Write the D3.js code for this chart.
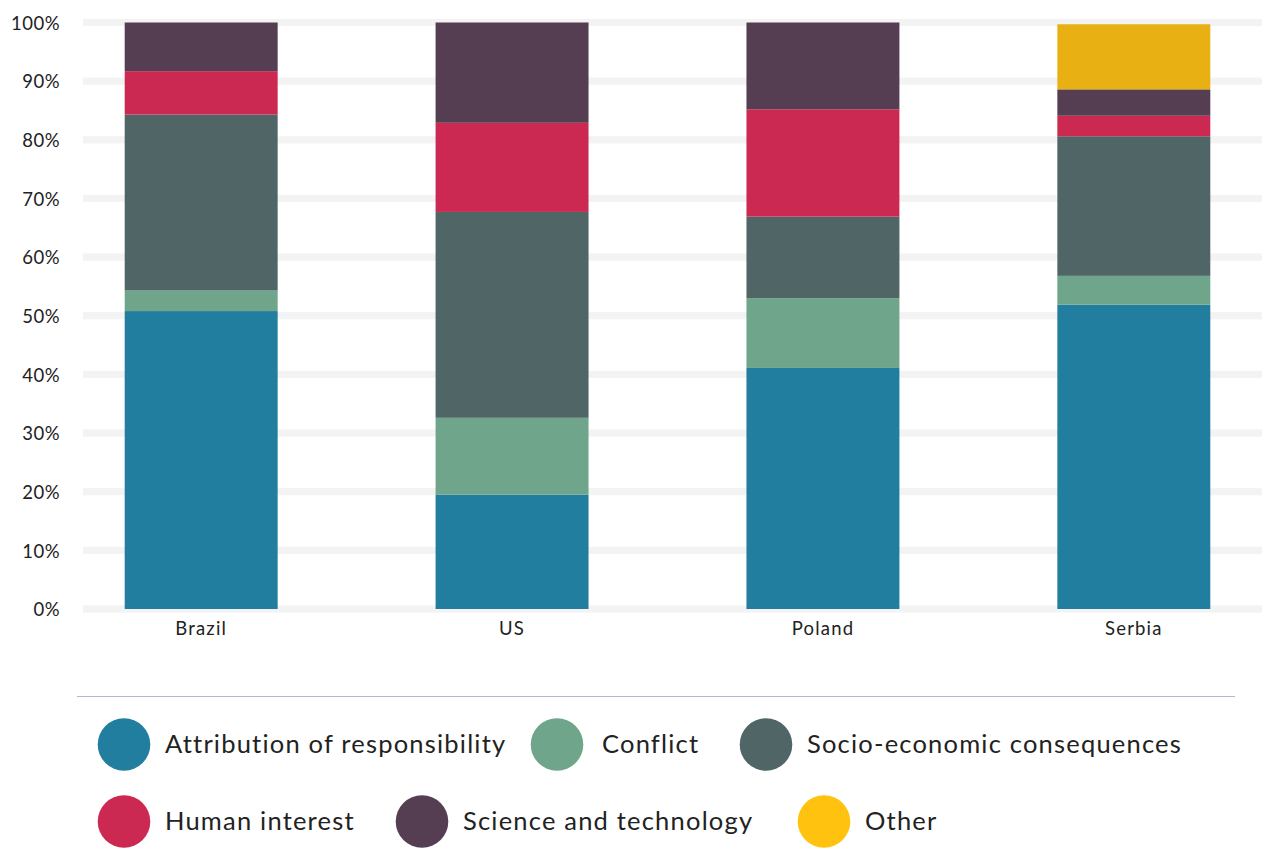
<!DOCTYPE html>
<html>
<head>
<meta charset="utf-8">
<script src="https://cdn.jsdelivr.net/npm/d3@7"></script>
<style>
  html, body { margin: 0; padding: 0; background: #fff; }
  svg { display: block; font-family: Lato, "Open Sans", sans-serif; }
</style>
</head>
<body>
<svg id="chart" width="1262" height="859"></svg>
<script>
// ---- data ----
const categories = ["Brazil", "US", "Poland", "Serbia"];
const seriesNames = ["Attribution of responsibility", "Conflict", "Socio-economic consequences",
                     "Human interest", "Science and technology", "Other"];
const attribution = [50.8, 19.5, 41.1, 51.9];
const conflict    = [3.5, 13.1, 11.9, 4.9];
const socio       = [30.0, 35.1, 13.9, 23.8];
const human       = [7.4, 15.2, 18.3, 3.5];
const science     = [8.3, 17.1, 14.8, 4.5];
const other       = [0, 0, 0, 11.1];
const yTicks = [0, 10, 20, 30, 40, 50, 60, 70, 80, 90, 100];

// ---- styles ----
const barColors    = ["#227e9e", "#6fa58a", "#4f6566", "#cc2952", "#553e51", "#e8b012"];
const legendColors = ["#227e9e", "#6fa58a", "#4f6566", "#cc2952", "#553e51", "#ffc20e"];

const seriesValues = [attribution, conflict, socio, human, science, other];
const table = categories.map((c, i) => {
  const row = { category: c };
  seriesNames.forEach((s, k) => row[s] = seriesValues[k][i]);
  return row;
});

const svg = d3.select("#chart");

const x = d3.scaleBand().domain(categories).range([124.7, 1210.3])
  .paddingInner(0.508).paddingOuter(0);
const y = d3.scaleLinear().domain([0, 100]).range([609, 22.5]);

// gridlines
svg.append("g").selectAll("rect").data(yTicks).join("rect")
  .attr("x", 83).attr("width", 1262 - 83)
  .attr("y", d => y(d) - 3.6).attr("height", 7.2)
  .attr("fill", "#f3f3f3");

// y axis labels
const yAxis = d3.axisLeft(y).tickValues(yTicks).tickFormat(d => d + "%").tickSize(0).tickPadding(0);
const gy = svg.append("g").attr("transform", "translate(60,0)").call(yAxis);
gy.select(".domain").remove();
gy.selectAll("text").attr("font-size", 18.5).attr("fill", "#222").attr("font-family", "Lato, sans-serif")
  .attr("dy", "0.36em").attr("letter-spacing", "0.5");

// bars
const stack = d3.stack().keys(seriesNames);
const stacked = stack(table);
svg.append("g").selectAll("g").data(stacked).join("g")
  .attr("fill", (d, i) => barColors[i])
  .selectAll("rect").data(d => d).join("rect")
  .attr("x", d => x(d.data.category))
  .attr("width", x.bandwidth())
  .attr("y", d => y(d[1]))
  .attr("height", d => Math.max(0, y(d[0]) - y(d[1])));

// x axis labels
const xAxis = d3.axisBottom(x).tickSize(0).tickPadding(0);
const gx = svg.append("g").attr("transform", "translate(0,609)").call(xAxis);
gx.select(".domain").remove();
gx.selectAll("text").attr("font-size", 18.5).attr("fill", "#222").attr("font-family", "Lato, sans-serif")
  .attr("y", 26).attr("dy", 0).attr("letter-spacing", "1.2");

// legend separator
svg.append("line").attr("x1", 77).attr("x2", 1235).attr("y1", 696.5).attr("y2", 696.5)
  .attr("stroke", "#aeb8cf").attr("stroke-width", 1);

// legend layout (row, circle centre x)
const legendLayout = [
  { row: 0, cx: 124 }, { row: 0, cx: 557 }, { row: 0, cx: 766 },
  { row: 1, cx: 124 }, { row: 1, cx: 422 }, { row: 1, cx: 824 }
];
const rowY = [744.5, 821.5];
const lg = svg.append("g").selectAll("g").data(seriesNames).join("g")
  .attr("transform", (d, i) => `translate(${legendLayout[i].cx},${rowY[legendLayout[i].row]})`);
lg.append("circle").attr("r", 26.3).attr("fill", (d, i) => legendColors[i]);
lg.append("text").attr("x", (d, i) => i === 1 ? 45 : 41).attr("y", 0).attr("dy", "0.35em")
  .attr("font-size", 25.5).attr("letter-spacing", "1.2").attr("fill", "#222")
  .attr("font-family", "Lato, sans-serif")
  .text(d => d);
</script>
</body>
</html>
